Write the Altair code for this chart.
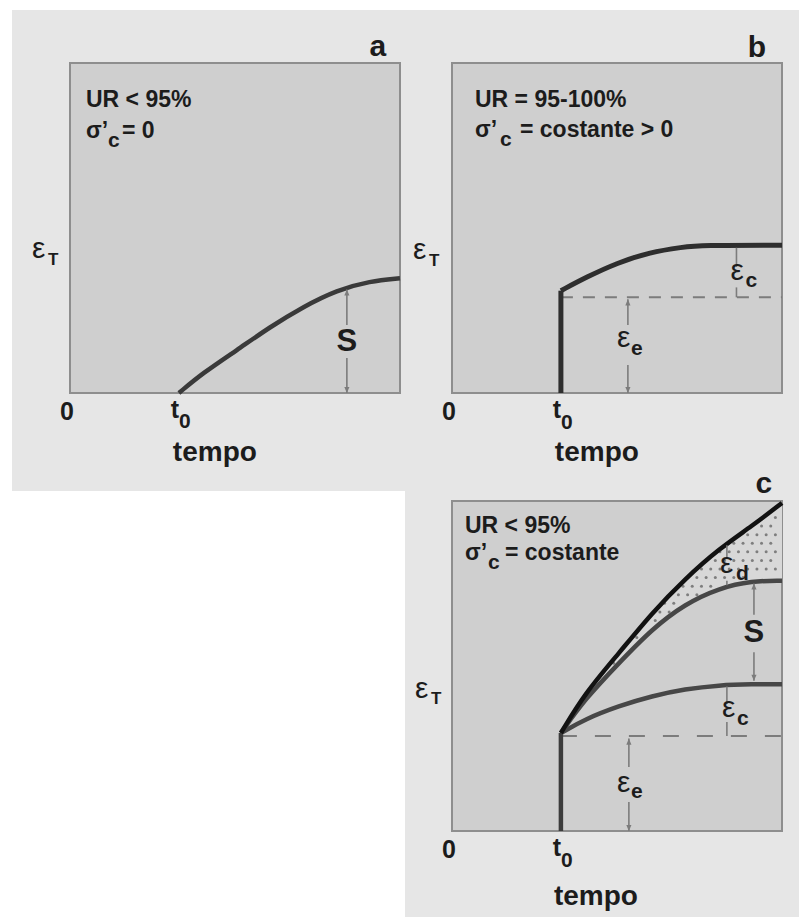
import altair as alt
import numpy as np
import pandas as pd

# ---------------------------------------------------------------------------
# Data: total strain (eps_T) versus time for three curing conditions
# time and strain are in arbitrary units on a 0-10 scale
# ---------------------------------------------------------------------------
T0 = 3.3  # loading / exposure time t0

# (a) UR < 95 %, sigma'c = 0  -> shrinkage only
A_TIME = [3.3, 4.03, 5.06, 6.06, 7.06, 8.09, 9.09, 10.0]
A_STRAIN = [0.0, 0.61, 1.30, 2.00, 2.61, 3.12, 3.39, 3.48]

# (b) UR = 95-100 %, sigma'c constant > 0 -> elastic + creep
B_ELASTIC = 2.9
B_JUMP = 3.1
B_TIME = [3.3, 4.09, 5.0, 6.0, 7.0, 7.52, 10.0]
B_STRAIN = [3.1, 3.52, 3.94, 4.27, 4.42, 4.48, 4.48]

# (c) UR < 95 %, sigma'c constant -> elastic + creep + shrinkage + drying creep
C_ELASTIC = 2.88
C_JUMP = 2.97
C_TIME = [3.3, 4.03, 5.06, 6.06, 7.06, 8.09, 9.09, 10.0]
C_TOTAL = [2.97, 4.18, 5.39, 6.61, 7.64, 8.55, 9.24, 9.94]
C_BASIC = [2.97, 4.00, 5.09, 6.12, 6.88, 7.36, 7.58, 7.58]
C_CREEP = [2.97, 3.39, 3.79, 4.09, 4.30, 4.42, 4.45, 4.45]

PANEL_LETTERS = ["a", "b", "c"]
CONDITIONS = ["UR < 95%", "UR = 95-100%", "UR < 95%"]
STRESS = ["= 0", "= costante > 0", "= costante"]
X_TICKS = ["0", "t", "0"]
X_TITLE = "tempo"

# ---------------------------------------------------------------------------
# Styling
# ---------------------------------------------------------------------------
FONT = "Liberation Sans"
INK = "#1c1c1c"
PAGE = "#e6e6e6"
PLOT = "#cfcfcf"
BAND = "#d8d8d8"
BORDER = "#8e8e8e"
GUIDE = "#7c7c7c"
SIDE = 330
SMOOTH = "basis"

XS = alt.Scale(domain=[0, 10], nice=False, zero=False)
YS = alt.Scale(domain=[0, 10], nice=False, zero=False)


def X(f):
    return alt.X(f"{f}:Q", scale=XS, axis=None)


def Y(f):
    return alt.Y(f"{f}:Q", scale=YS, axis=None)


def one(**cols):
    return pd.DataFrame({k: [v] for k, v in cols.items()})


def page(x0, x1, y0, y1):
    # printed-page tone behind a panel group
    return alt.Chart(one(k=0)).mark_rect(fill=PAGE).encode(
        x=alt.value(x0), x2=alt.value(x1), y=alt.value(y0), y2=alt.value(y1)
    )


def frame():
    return alt.Chart(one(x0=0.0, x1=10.0, y0=0.0, y1=10.0)).mark_rect(
        fill=PLOT, stroke=BORDER, strokeWidth=2
    ).encode(x=X("x0"), x2="x1:Q", y=Y("y0"), y2="y1:Q")


def curve(ts, es, color, width=4.5):
    return alt.Chart(pd.DataFrame({"t": ts, "e": es})).mark_line(
        interpolate=SMOOTH, color=color, strokeWidth=width, strokeCap="butt"
    ).encode(x=X("t"), y=Y("e"))


def rise(top, color, width=4.5):
    return alt.Chart(one(t=T0, a=0.0, b=top)).mark_rule(
        color=color, strokeWidth=width
    ).encode(x=X("t"), y=Y("a"), y2="b:Q")


def dashed(level, dash):
    return alt.Chart(one(a=T0, b=10.0, e=level)).mark_rule(
        color=GUIDE, strokeWidth=2, strokeDash=dash
    ).encode(x=X("a"), x2="b:Q", y=Y("e"))


def guides(xs, tops, bottoms):
    df = pd.DataFrame({"x": xs, "a": tops, "b": bottoms})
    return alt.Chart(df).mark_rule(color=GUIDE, strokeWidth=1.6).encode(
        x=X("x"), y=Y("a"), y2="b:Q"
    )


def heads(xs, ys, up):
    path = "M0,0L-0.42,1L0.42,1Z" if up else "M0,0L-0.42,-1L0.42,-1Z"
    return alt.Chart(pd.DataFrame({"x": xs, "y": ys})).mark_point(
        shape=path, filled=True, size=150, color=GUIDE, opacity=1, strokeWidth=0
    ).encode(x=X("x"), y=Y("y"))


def txt(x, y, s, size, dx=0, dy=0, align="left", baseline="alphabetic",
        weight="bold", color=INK):
    return alt.Chart(one(x=x, y=y, s=s)).mark_text(
        align=align, baseline=baseline, dx=dx, dy=dy, fontSize=size,
        fontWeight=weight, font=FONT, color=color
    ).encode(x=X("x"), y=Y("y"), text="s:N")


def eps(x, y, sub, dx, sub_dx, sub_dy, size=30, sub_size=21):
    # strain symbol with a bold subscript
    return [
        txt(x, y, "ε", size, dx=dx, weight="normal"),
        txt(x, y, sub, sub_size, dx=sub_dx, dy=sub_dy),
    ]


def header(letter, letter_x, letter_dy, cond, stress, left, l1, l2, sub_dx, rest_dx):
    return [
        txt(letter_x, 10, letter, 30, dy=letter_dy, align="center"),
        txt(0, 10, cond, 23, dx=left, dy=l1),
        txt(0, 10, "σ’", 23, dx=left, dy=l2),
        txt(0, 10, "c", 21, dx=sub_dx, dy=l2 + 9),
        txt(0, 10, stress, 23, dx=rest_dx, dy=l2),
    ]


def time_axis(tempo_x, tempo_dy, sub_dy):
    return [
        txt(0, 0, X_TICKS[0], 25, dx=-3, dy=27, align="center"),
        txt(T0, 0, X_TICKS[1], 25, dx=-4, dy=25, align="center"),
        txt(T0, 0, X_TICKS[2], 21, dx=0, dy=sub_dy),
        txt(tempo_x, 0, X_TITLE, 28, dy=tempo_dy, align="center"),
    ]


# ---------------------------------------------------------------------------
# Panel a
# ---------------------------------------------------------------------------
panel_a = alt.layer(
    page(-58, 729, -53, 428),
    frame(),
    curve(A_TIME, A_STRAIN, "#3a3a3a"),
    guides([8.39, 8.39], [3.14, 1.06], [2.06, 0.0]),
    heads([8.39], [3.14], True),
    heads([8.39], [0.0], False),
    txt(8.39, 1.55, "S", 31, align="center", baseline="middle"),
    *header(PANEL_LETTERS[0], 9.33, -7, CONDITIONS[0], STRESS[0], 16, 44, 75, 38, 52),
    *eps(0, 4.09, "T", -38, -22, 7, sub_size=17),
    *time_axis(4.39, 68, 35),
).properties(width=SIDE, height=SIDE)

# ---------------------------------------------------------------------------
# Panel b
# ---------------------------------------------------------------------------
panel_b = alt.layer(
    frame(),
    dashed(B_ELASTIC, [12, 10]),
    rise(B_JUMP, "#2e2e2e", 5),
    curve(B_TIME, B_STRAIN, "#2e2e2e", 5),
    guides([8.62, 8.62, 5.33, 5.33], [4.4, 3.2, 2.84, 0.85], [3.82, 2.9, 2.06, 0.0]),
    heads([5.33], [2.84], True),
    heads([5.33], [0.0], False),
    *eps(8.62, 3.42, "c", -6, 9, 7),
    *eps(5.33, 1.39, "e", -11, 3, 8),
    *header(PANEL_LETTERS[1], 9.24, -6, CONDITIONS[1], STRESS[1], 23, 44, 74, 48, 68),
    *eps(0, 4.06, "T", -39, -23, 7, sub_size=17),
    *time_axis(4.39, 68, 36),
).properties(width=SIDE, height=SIDE)

# ---------------------------------------------------------------------------
# Panel c
# ---------------------------------------------------------------------------
# stipple texture for the drying-creep band between the two upper curves
gx, gy = np.meshgrid(np.arange(3.5, 10.0, 0.28), np.arange(3.0, 10.0, 0.26))
gx = gx + (np.arange(gx.shape[0])[:, None] % 2) * 0.14
lo = np.interp(gx, C_TIME, C_BASIC) + 0.1
hi = np.interp(gx, C_TIME, C_TOTAL) - 0.1
inside = (gy > lo) & (gy < hi) & (gx < 9.9)
stipple = pd.DataFrame({"x": gx[inside], "y": gy[inside]})

band = alt.Chart(pd.DataFrame({"t": C_TIME, "hi": C_TOTAL, "lo": C_BASIC})).mark_area(
    interpolate=SMOOTH, color=BAND
).encode(x=X("t"), y=Y("hi"), y2="lo:Q")

dots = alt.Chart(stipple).mark_circle(size=9, color="#7e7e7e", opacity=1).encode(
    x=X("x"), y=Y("y")
)

panel_c = alt.layer(
    page(-47, 347, -10, 416),
    frame(),
    band,
    dots,
    dashed(C_ELASTIC, [16, 18]),
    rise(C_JUMP, "#3c3c3c"),
    curve(C_TIME, C_CREEP, "#474747"),
    curve(C_TIME, C_BASIC, "#474747"),
    curve(C_TIME, C_TOTAL, "#121212"),
    guides(
        [8.33, 8.33, 9.15, 9.15, 8.33, 8.33, 5.36, 5.36],
        [8.66, 7.58, 7.5, 5.42, 4.38, 3.3, 2.8, 0.88],
        [8.3, 7.45, 6.55, 4.55, 3.85, 2.88, 1.94, 0.0],
    ),
    heads([9.15, 5.36], [7.5, 2.8], True),
    heads([9.15, 5.36], [4.55, 0.0], False),
    *eps(8.33, 7.82, "d", -7, 9, 7),
    txt(9.15, 6.0, "S", 31, align="center", baseline="middle"),
    *eps(8.33, 3.45, "c", -5, 10, 8),
    *eps(5.36, 1.18, "e", -12, 2, 6),
    *header(PANEL_LETTERS[2], 9.45, -8, CONDITIONS[2], STRESS[2], 13, 32, 59, 36, 53),
    *eps(0, 4.03, "T", -37, -21, 6, sub_size=17),
    *time_axis(4.36, 74, 36),
).properties(width=SIDE, height=SIDE)

# empty cell that keeps panel c in the right-hand column
blank = alt.Chart(one(k=0)).mark_point(opacity=0).encode(
    x=alt.value(0), y=alt.value(0)
).properties(width=SIDE, height=SIDE)

chart = alt.concat(
    panel_a, panel_b, blank, panel_c,
    columns=2,
    spacing={"row": 108, "column": 52},
    bounds="flush",
).properties(
    padding={"left": 12, "top": 10, "right": 0, "bottom": 0},
    background="white",
).configure_view(strokeWidth=0)

chart.save("out.html", embed_options={"renderer": "svg", "actions": False})
